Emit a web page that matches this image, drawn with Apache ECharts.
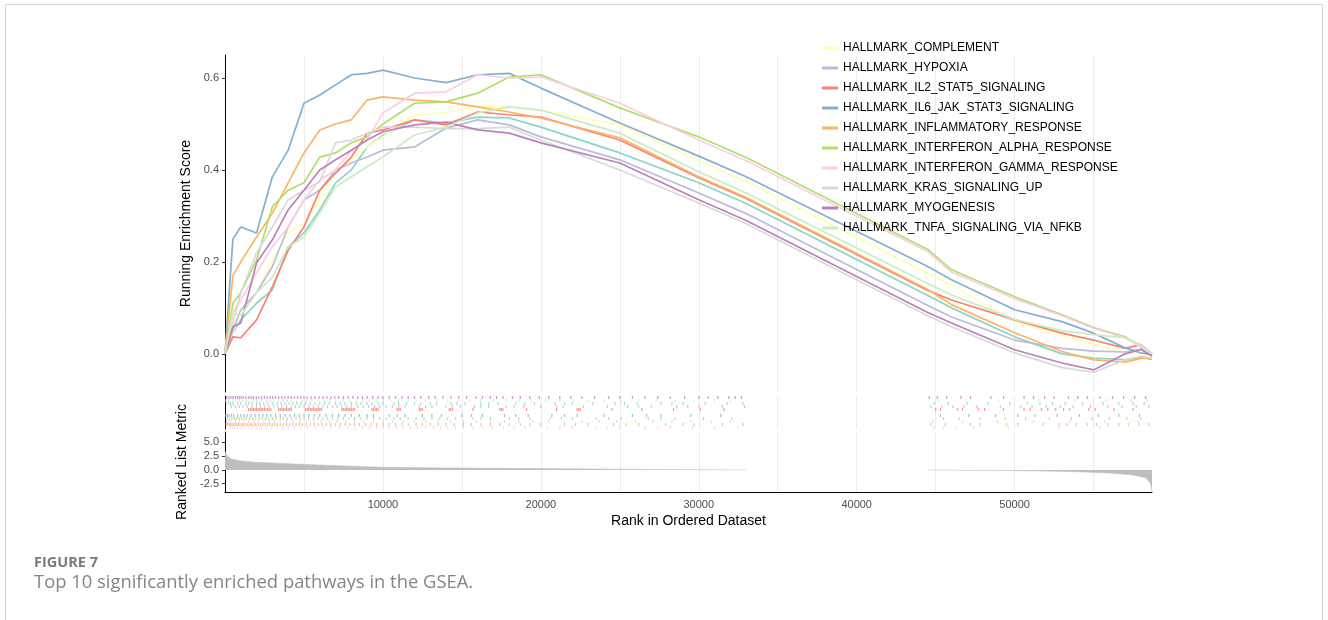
<!DOCTYPE html>
<html>
<head>
<meta charset="utf-8">
<title>GSEA running enrichment score</title>
<script src="https://cdn.jsdelivr.net/npm/echarts@6.0.0/dist/echarts.min.js"></script>
<style>
    html, body { margin: 0; padding: 0; background: #fff; }
    #gsea-chart { width: 1328px; height: 620px; }
</style>
</head>
<body>
<div id="gsea-chart"></div>
<script>
// gene set names, in plotting order (first one has no legend entry in the figure)
var setNames = ['unlabelled set', 'HALLMARK_COMPLEMENT', 'HALLMARK_HYPOXIA', 'HALLMARK_IL2_STAT5_SIGNALING',
    'HALLMARK_IL6_JAK_STAT3_SIGNALING', 'HALLMARK_INFLAMMATORY_RESPONSE', 'HALLMARK_INTERFERON_ALPHA_RESPONSE',
    'HALLMARK_INTERFERON_GAMMA_RESPONSE', 'HALLMARK_KRAS_SIGNALING_UP', 'HALLMARK_MYOGENESIS',
    'HALLMARK_TNFA_SIGNALING_VIA_NFKB'];
var legendNames = setNames.slice(1);
var setColors = ['#8DD3C7', '#FFFFB3', '#BEBADA', '#FB8072', '#80B1D3', '#FDB462', '#B3DE69', '#FCCDE5', '#D9D9D9', '#BC80BD', '#CCEBC5'];

// running enrichment score, read at these ranks
var ranks = [0, 500, 1000, 2000, 3000, 4000, 5000, 6000, 7000, 8000, 9000, 10000, 12000, 14000, 16000, 18000, 20000,
    25000, 30000, 33000, 44500, 46000, 50000, 53000, 55000, 57000, 58000, 58700];
var esUnlabelled = [0, 0.046, 0.074, 0.11, 0.139, 0.233, 0.263, 0.313, 0.372, 0.40, 0.45, 0.475, 0.509, 0.502, 0.515, 0.513, 0.493, 0.437, 0.372, 0.327, 0.127, 0.10, 0.037, 0.0, -0.009, -0.013, -0.008, -0.012];
var esComplement = [0, 0.046, 0.089, 0.133, 0.204, 0.263, 0.285, 0.335, 0.393, 0.422, 0.45, 0.472, 0.52, 0.526, 0.537, 0.537, 0.53, 0.498, 0.42, 0.375, 0.175, 0.15, 0.07, 0.04, 0.02, 0.003, 0.0, -0.005];
var esHypoxia = [0, 0.052, 0.096, 0.133, 0.19, 0.276, 0.335, 0.356, 0.40, 0.415, 0.428, 0.443, 0.45, 0.491, 0.509, 0.498, 0.472, 0.422, 0.35, 0.305, 0.105, 0.08, 0.03, 0.012, 0.006, 0.004, 0.01, -0.005];
var esIl2 = [0, 0.037, 0.035, 0.074, 0.146, 0.225, 0.276, 0.356, 0.393, 0.428, 0.48, 0.487, 0.509, 0.498, 0.526, 0.52, 0.515, 0.465, 0.383, 0.338, 0.138, 0.117, 0.074, 0.045, 0.03, 0.012, 0.02, 0.0];
var esIl6 = [0, 0.25, 0.276, 0.263, 0.385, 0.443, 0.545, 0.563, 0.585, 0.607, 0.61, 0.617, 0.60, 0.59, 0.607, 0.61, 0.578, 0.502, 0.43, 0.385, 0.19, 0.161, 0.096, 0.07, 0.045, 0.013, 0.002, -0.002];
var esInflammatory = [0, 0.17, 0.20, 0.254, 0.306, 0.372, 0.437, 0.487, 0.50, 0.509, 0.552, 0.559, 0.552, 0.548, 0.537, 0.526, 0.513, 0.47, 0.385, 0.34, 0.14, 0.107, 0.046, 0.005, -0.013, -0.018, -0.01, -0.01];
var esIfnAlpha = [0, 0.11, 0.133, 0.204, 0.32, 0.356, 0.372, 0.428, 0.437, 0.459, 0.472, 0.50, 0.545, 0.548, 0.567, 0.602, 0.607, 0.535, 0.472, 0.427, 0.227, 0.183, 0.124, 0.085, 0.057, 0.037, 0.015, 0.002];
var esIfnGamma = [0, 0.09, 0.117, 0.176, 0.233, 0.276, 0.335, 0.378, 0.40, 0.443, 0.465, 0.524, 0.567, 0.57, 0.607, 0.60, 0.602, 0.545, 0.465, 0.42, 0.222, 0.178, 0.12, 0.083, 0.055, 0.035, 0.015, 0.0];
var esKras = [0, 0.067, 0.133, 0.22, 0.276, 0.335, 0.356, 0.374, 0.459, 0.465, 0.48, 0.493, 0.493, 0.49, 0.49, 0.493, 0.465, 0.40, 0.328, 0.283, 0.083, 0.059, 0.002, -0.03, -0.04, -0.013, -0.005, -0.01];
var esMyogenesis = [0, 0.059, 0.067, 0.198, 0.248, 0.313, 0.356, 0.40, 0.422, 0.443, 0.465, 0.483, 0.498, 0.504, 0.487, 0.48, 0.459, 0.415, 0.335, 0.29, 0.09, 0.067, 0.009, -0.02, -0.035, 0.0, 0.01, -0.005];
var esTnfa = [0, 0.089, 0.083, 0.133, 0.167, 0.233, 0.254, 0.306, 0.363, 0.385, 0.407, 0.428, 0.476, 0.493, 0.524, 0.537, 0.53, 0.48, 0.396, 0.35, 0.153, 0.128, 0.075, 0.05, 0.042, 0.035, 0.02, 0.0];
var esValues = [esUnlabelled, esComplement, esHypoxia, esIl2, esIl6, esInflammatory, esIfnAlpha, esIfnGamma, esKras, esMyogenesis, esTnfa];

// positions of the gene set members in the ranked list (rug rows)
var hitsUnlabelled = [200, 500, 800, 1300, 1700, 2200, 2700, 3300, 3800, 4300, 4800, 5400, 6000, 6600, 7300, 8000, 8600, 9300, 10000, 10700, 11500, 12400, 13400, 14300, 15200, 16200, 17300, 18400, 19600, 20900, 22000, 23300, 24700, 26100, 27600, 29000, 30400, 31800, 32800,
    350, 1000, 1500, 2000, 2450, 3000, 3550, 4050, 4550, 5100, 5700, 6300, 7000, 7600, 8300, 9000, 9700, 11000, 12000, 13000, 14700, 16700, 19000, 21500, 25300, 28300,
    44900, 45800, 47000, 48300, 49700, 50800, 51600, 52400, 53200, 54300, 55600, 56600, 57500, 58200];
var hitsComplement = [300, 700, 1200, 1800, 2400, 3000, 3700, 4400, 5100, 5800, 6500, 7200, 8000, 8800, 9600, 10500, 11400, 12400, 13500, 14600, 15800, 17000, 18300, 19600, 21000, 22500, 24000, 25600, 27200, 28900, 30600, 32300,
    500, 950, 1500, 2100, 2700, 3350, 4000, 4750, 5450, 6100, 6850, 7600, 8400, 9200, 10000, 11000, 12900, 14000, 16400, 19000, 23300, 26400, 31400,
    45400, 46200, 47400, 49000, 50900, 52300, 53800, 55000, 56500, 57300, 58400];
var hitsHypoxia = [400, 900, 1400, 2000, 2500, 3100, 3600, 4200, 4700, 5300, 5900, 6500, 7100, 7700, 8400, 9100, 9800, 10600, 11400, 12300, 13100, 14000, 14900, 15800, 16700, 17800, 18900, 20000, 21400, 22700, 24200, 25500, 27000, 28600, 30000, 31500, 32900,
    650, 1150, 1700, 2250, 2800, 3350, 3900, 4450, 5000, 5600, 6200, 6800, 7400, 8000, 8750, 9450, 10200, 11000, 12700, 14400, 16200, 18300, 21000, 26200, 29300,
    44700, 45400, 46100, 46800, 47600, 49100, 50400, 51100, 52000, 52900, 53700, 54800, 55900, 56800, 57700, 58500];
var hitsIl2 = [1500, 1700, 1900, 2100, 2300, 2500, 2700, 2900, 3400, 3600, 3800, 4000, 4200, 5100, 5300, 5500, 5700, 5900, 6100, 7400, 7600, 7800, 8000, 8200, 9300, 9500, 9700, 10900, 11100, 12300, 12500, 14200, 14400, 15700, 17400, 17600, 19100, 21000, 22300, 22500, 24500, 26400, 28400, 30100, 31600,
    1600, 1800, 2000, 2200, 2400, 2600, 2800, 3500, 3700, 3900, 4100, 5200, 5400, 5600, 5800, 6000, 7500, 7700, 7900, 8100, 9400, 9600, 11000, 12400, 14300, 17500, 22400,
    45000, 45300, 46400, 46700, 47700, 48100, 49300, 50600, 51000, 51700, 52100, 52600, 53100, 53500, 54700, 55100, 56300, 57500];
var hitsIl6 = [50, 250, 550, 1000, 1400, 1900, 2400, 2900, 3500, 4100, 4700, 5300, 6000, 6800, 7600, 8500, 9400, 10400, 11400, 12500, 13700, 15000, 16300, 17700, 19200, 20700, 22300, 24000, 25800, 27600, 29500, 31400,
    150, 400, 800, 1200, 1650, 2150, 2650, 3200, 3800, 4400, 5000, 5650, 6400, 7200, 8000, 9000, 10900, 13100, 15600, 18400, 21500, 26700,
    45300, 47100, 48800, 50200, 51300, 52700, 54100, 55300, 56600, 57900];
var hitsInflammatory = [80, 260, 450, 650, 850, 1100, 1350, 1600, 1850, 2100, 2400, 2700, 3000, 3300, 3700, 4100, 4500, 4900, 5400, 5900, 6400, 7000, 7600, 8200, 8900, 9600, 10400, 11200, 12100, 13000, 14000, 15100, 16200, 17400, 18700, 20000, 21500, 23000, 24600, 26200, 27900, 29700, 31500, 32800,
    170, 350, 550, 750, 950, 1200, 1450, 1700, 1950, 2250, 2550, 2850, 3150, 3500, 3900, 4300, 4700, 5150, 5650, 6150, 6700, 7300, 7900, 8500, 9250, 10000, 10800, 11600, 12500, 13500, 14500, 15600, 16800, 18000, 19300, 22200, 25400, 29000,
    44700, 45600, 47200, 47800, 49500, 50200, 51800, 52800, 53300, 53900, 54600, 55200, 55900, 56600, 57200, 57900, 58500];
var hitsIfnAlpha = [150, 450, 750, 1050, 1350, 1750, 2150, 2550, 3000, 3500, 3950, 4500, 5000, 5600, 6200, 6800, 7500, 8200, 9000, 9800, 10700, 11600, 12600, 13600, 14600, 15700, 16800, 18000, 19300, 20600, 22000, 23500, 25100, 26800, 28500, 30300, 32100,
    300, 600, 900, 1200, 1550, 1950, 2350, 2750, 3250, 3700, 4200, 4750, 5300, 5900, 6500, 7150, 7850, 8600, 9400, 10200, 11100, 12100, 13100, 14100, 16200, 18600, 21300, 24300, 27600,
    45500, 46500, 47800, 49400, 50700, 52200, 53600, 54900, 56000, 57100, 58000];
var hitsIfnGamma = [300, 600, 1000, 1500, 2000, 2600, 3300, 4000, 4800, 5700, 6700, 7800, 8700, 9600, 10400, 11300, 12200, 13200, 14100, 15100, 16300, 17600, 19000, 20400, 22000, 23500, 25000, 26600, 28200, 29600, 31000, 32500,
    450, 800, 1250, 1750, 2300, 2950, 3650, 4400, 5250, 6200, 7250, 8250, 9150, 10000, 10850, 11750, 12700, 13650, 14600, 15700, 16900, 18300, 21200, 24200, 27400,
    44900, 45500, 46300, 47400, 49600, 52800, 55400];
var hitsKras = [100, 400, 900, 1500, 2100, 2800, 3500, 4300, 5200, 6100, 7100, 8200, 9400, 10600, 12000, 13500, 15100, 16800, 18600, 20500, 22600, 24800, 27100, 29500, 32000,
    250, 650, 1200, 1800, 2450, 3150, 3900, 4750, 5650, 6600, 7650, 8800, 10000, 11300, 12700, 14300, 15900, 17700, 19500, 21500, 23700, 26000, 28300, 30800,
    44800, 46700, 48900, 51200, 53500, 55700, 57800];
var hitsMyogenesis = [120, 380, 650, 900, 1150, 1500, 1800, 2150, 2500, 2850, 3200, 3600, 4000, 4400, 4800, 5200, 5700, 6200, 6700, 7200, 7800, 8400, 9000, 9700, 10400, 11200, 12000, 12900, 13800, 14800, 15900, 16800, 17600, 18700, 19900, 21200, 22600, 24300, 25800, 27400, 29100, 30600, 31900, 32700,
    250, 500, 780, 1020, 1320, 1650, 1980, 2320, 2680, 3020, 3400, 3800, 4200, 4600, 5000, 5450, 5950, 6450, 6950, 7500, 8100, 8700, 9350, 10000, 10800, 11600, 12400, 13300, 14300, 15300, 16300, 17200, 18200, 19300, 20500, 21900, 23400, 25000, 26600, 28200, 30000, 31200, 32300,
    44600, 45100, 45700, 46600, 47200, 48500, 49300, 50600, 51200, 51900, 52500, 53400, 54000, 54600, 55400, 56200, 56900, 57600, 58300];
var hitsTnfa = [60, 300, 700, 1100, 1600, 2000, 2600, 3100, 3700, 4200, 4900, 5500, 6300, 7000, 7900, 8700, 9600, 10500, 11600, 12700, 14100, 15500, 17000, 18600, 20300, 22100, 24000, 26200, 28500, 31000,
    180, 500, 900, 1350, 1800, 2300, 2850, 3400, 3950, 4550, 5200, 5900, 6650, 7450, 8300, 9150, 10000, 11000, 12100, 13400, 14800, 16200, 17800, 19400, 21200, 23000, 25100, 27300, 29700, 32000,
    45200, 46900, 49000, 51500, 53800, 55800, 57400, 58400];
var hitValues = [hitsUnlabelled, hitsComplement, hitsHypoxia, hitsIl2, hitsIl6, hitsInflammatory, hitsIfnAlpha, hitsIfnGamma, hitsKras, hitsMyogenesis, hitsTnfa];
// rug row of each set, 0 = top row
var rugRows = [2, 5, 3, 4, 6, 9, 7, 10, 8, 0, 1];

// ranked list metric (null = no genes drawn there)
var metricRanks = [0, 150, 400, 1000, 2000, 4000, 6000, 8000, 10000, 14000, 20000, 25000, 30000, 33000, 38000,
    44500, 48000, 51000, 54000, 56000, 57500, 58300, 58600, 58700];
var metricValues = [3.4, 2.5, 2.0, 1.65, 1.4, 1.15, 0.9, 0.7, 0.5, 0.38, 0.25, 0.15, 0.06, 0.01, null,
    -0.01, -0.06, -0.15, -0.32, -0.55, -0.9, -1.4, -2.4, -4.0];

var esTicks = [0, 0.2, 0.4, 0.6];
var metricTicks = [-2.5, 0, 2.5, 5];
var rankMax = 58700;

var chart = echarts.init(document.getElementById('gsea-chart'));

var series = [];
for (var i = 0; i < setNames.length; i++) {
    series.push({
        name: setNames[i],
        type: 'line',
        xAxisIndex: 0,
        yAxisIndex: 0,
        showSymbol: false,
        silent: true,
        data: ranks.map(function (r, j) { return [r, esValues[i][j]]; }),
        lineStyle: { width: 1.7, color: setColors[i] },
        itemStyle: { color: setColors[i] }
    });
}
for (var k = 0; k < setNames.length; k++) {
    series.push({
        name: setNames[k] + ' hits',
        type: 'scatter',
        xAxisIndex: 1,
        yAxisIndex: 1,
        symbol: 'rect',
        symbolSize: [1.2, 3],
        silent: true,
        data: hitValues[k].map(function (r) { return [r, rugRows[k] + 0.5]; }),
        itemStyle: { color: setColors[k] }
    });
}
series.push({
    name: 'metric',
    type: 'line',
    xAxisIndex: 2,
    yAxisIndex: 2,
    showSymbol: false,
    silent: true,
    data: metricRanks.map(function (r, j) { return [r, metricValues[j] === null ? '-' : metricValues[j]]; }),
    lineStyle: { width: 0.5, color: '#BEBEBE' },
    areaStyle: { color: '#BEBEBE', opacity: 1 }
});

function rankAxis(gridIndex, showLabels) {
    return {
        type: 'value',
        gridIndex: gridIndex,
        min: 0,
        max: rankMax,
        interval: 5000,
        axisLine: { show: showLabels, onZero: false, lineStyle: { color: '#000', width: 1 } },
        axisTick: { show: false },
        axisLabel: {
            show: showLabels,
            color: '#4D4D4D',
            fontSize: 11,
            margin: 7,
            formatter: function (v) { return (v > 0 && v % 10000 === 0) ? String(v) : ''; }
        },
        splitLine: { show: true, showMinLine: false, showMaxLine: false, lineStyle: { color: '#EBEBEB', width: 1 } },
        name: showLabels ? 'Rank in Ordered Dataset' : '',
        nameLocation: 'middle',
        nameGap: 22,
        nameTextStyle: { color: '#000', fontSize: 14 }
    };
}

var option = {
    animation: false,
    textStyle: { fontFamily: 'Liberation Sans' },
    grid: [
        { left: 225, top: 55, width: 927, height: 337 },
        { left: 225, top: 396, width: 927, height: 33 },
        { left: 225, top: 432, width: 927, height: 60 }
    ],
    legend: {
        data: legendNames,
        orient: 'vertical',
        left: 817,
        top: 36,
        itemGap: 6,
        itemWidth: 16,
        itemHeight: 3,
        icon: 'rect',
        selectedMode: false,
        textStyle: { fontSize: 12, color: '#000', lineHeight: 14 }
    },
    xAxis: [rankAxis(0, false), rankAxis(1, false), rankAxis(2, true)],
    yAxis: [
        {
            type: 'value',
            gridIndex: 0,
            min: -0.083,
            max: 0.65,
            axisLine: { show: true, onZero: false, lineStyle: { color: '#000', width: 1 } },
            axisTick: { show: true, length: 3, customValues: esTicks, lineStyle: { color: '#333' } },
            axisLabel: { customValues: esTicks, color: '#4D4D4D', fontSize: 11, margin: 6,
                formatter: function (v) { return v.toFixed(1); } },
            splitLine: { show: false },
            name: 'Running Enrichment Score',
            nameLocation: 'middle',
            nameGap: 32,
            nameTextStyle: { color: '#000', fontSize: 14 }
        },
        {
            type: 'value',
            gridIndex: 1,
            min: 0,
            max: 11,
            inverse: true,
            axisLine: { show: true, onZero: false, lineStyle: { color: '#000', width: 1 } },
            axisTick: { show: false },
            axisLabel: { show: false },
            splitLine: { show: false }
        },
        {
            type: 'value',
            gridIndex: 2,
            min: -4,
            max: 6.9,
            axisLine: { show: true, onZero: false, lineStyle: { color: '#000', width: 1 } },
            axisTick: { show: true, length: 3, customValues: metricTicks, lineStyle: { color: '#333' } },
            axisLabel: { customValues: metricTicks, color: '#4D4D4D', fontSize: 11, margin: 6,
                formatter: function (v) { return v.toFixed(1); } },
            splitLine: { show: false },
            name: 'Ranked List Metric',
            nameLocation: 'middle',
            nameGap: 32,
            nameTextStyle: { color: '#000', fontSize: 14 }
        }
    ],
    graphic: [
        { type: 'rect', silent: true, shape: { x: 5.5, y: 4.5, width: 1317, height: 700 },
            style: { fill: 'none', stroke: '#D4D4D4', lineWidth: 1 } },
        { type: 'text', left: 34, top: 555,
            style: { text: 'FIGURE 7', font: 'bold 14.5px "Open Sans"', fill: '#7A7A7A' } },
        { type: 'text', left: 34, top: 574,
            style: { text: 'Top 10 significantly enriched pathways in the GSEA.', font: '18.4px "Open Sans"', fill: '#858585' } }
    ],
    series: series
};
chart.setOption(option);
</script>
</body>
</html>
